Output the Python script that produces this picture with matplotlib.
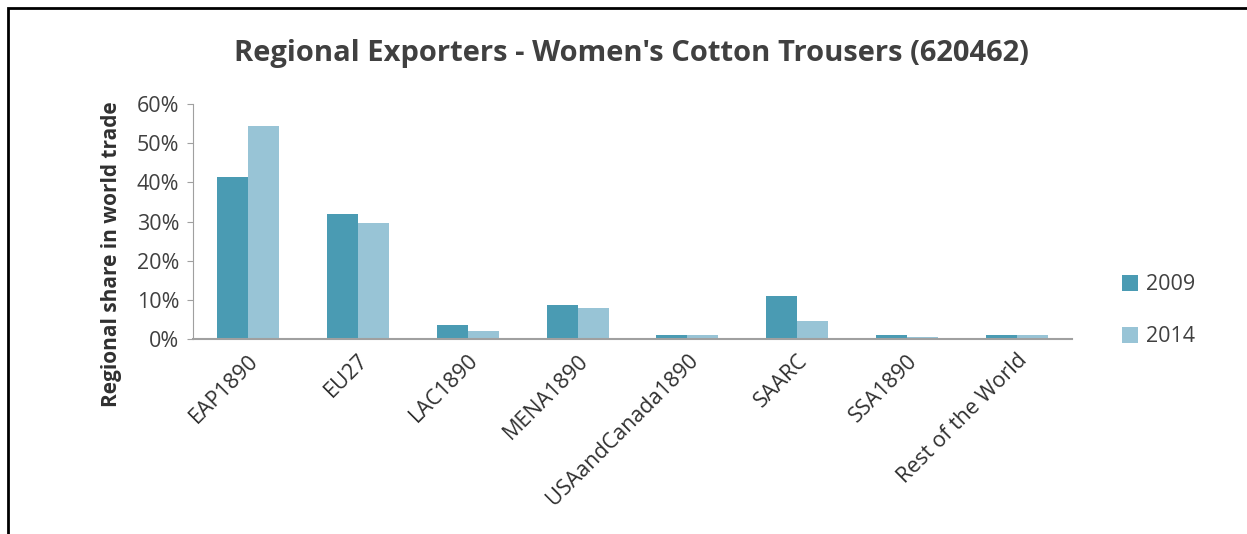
import matplotlib.pyplot as plt
import matplotlib.patches as mpatches
import numpy as np

plt.rcParams['font.family'] = ['Open Sans', 'DejaVu Sans']

regions = ["EAP1890", "EU27", "LAC1890", "MENA1890", "USAandCanada1890",
           "SAARC", "SSA1890", "Rest of the World"]
share_2009 = [41.4, 32.0, 3.7, 8.7, 1.0, 10.9, 1.0, 1.0]
share_2014 = [54.5, 29.6, 2.0, 7.8, 1.0, 4.5, 0.4, 1.0]
years = ["2009", "2014"]
colors = ["#4A9BB3", "#98C4D6"]

W, H = 1247, 534
fig = plt.figure(figsize=(W / 100, H / 100), dpi=100)
fig.patch.set_facecolor("white")

# black frame, right and bottom edges run off the picture
fig.patches.append(mpatches.Rectangle((8 / W, -0.1), 1.2, 1 - 8 / H + 0.1,
                                      transform=fig.transFigure, fill=False,
                                      edgecolor="black", linewidth=2))

ax = fig.add_axes([193 / W, 1 - 339 / H, (1072 - 193) / W, (339 - 104) / H])
x = np.arange(len(regions))
w = 0.282
ax.bar(x - w / 2, share_2009, w, color=colors[0], label=years[0])
ax.bar(x + w / 2, share_2014, w, color=colors[1], label=years[1])

ax.set_xlim(-0.5, len(regions) - 0.5)
ax.set_ylim(0, 60)
ax.set_yticks(range(0, 61, 10))
ax.set_yticklabels([f"{v}%" for v in range(0, 61, 10)], fontsize=15.5, color="#404040")
ax.set_xticks(x)
ax.set_xticklabels(regions, rotation=45, ha="right", rotation_mode="anchor",
                   fontsize=15.5, color="#303030")
ax.tick_params(axis="x", length=0, pad=8)
ax.tick_params(axis="y", length=4, color="#A0A0A0", direction="out", pad=6)
for s in ["top", "right"]:
    ax.spines[s].set_visible(False)
ax.spines["left"].set_color("#A0A0A0")
ax.spines["bottom"].set_color("#A0A0A0")
ax.spines["bottom"].set_linewidth(1.5)

ax.set_ylabel("Regional share in world trade", fontsize=15, fontweight="bold",
              color="#303030", va="center")
ax.yaxis.set_label_coords(-0.093, 0.362)

fig.text(631 / W, 1 - 54 / H, "Regional Exporters - Women's Cotton Trousers (620462)",
         ha="center", va="center", fontsize=21, fontweight="bold", color="#404040")

ax.legend(loc="center left", bbox_to_anchor=(1.035, 0.12), frameon=False,
          fontsize=15.5, handlelength=0.75, handleheight=0.75, labelspacing=1.45,
          handletextpad=0.35, labelcolor="#404040")

fig.savefig("out.png", dpi=100)
